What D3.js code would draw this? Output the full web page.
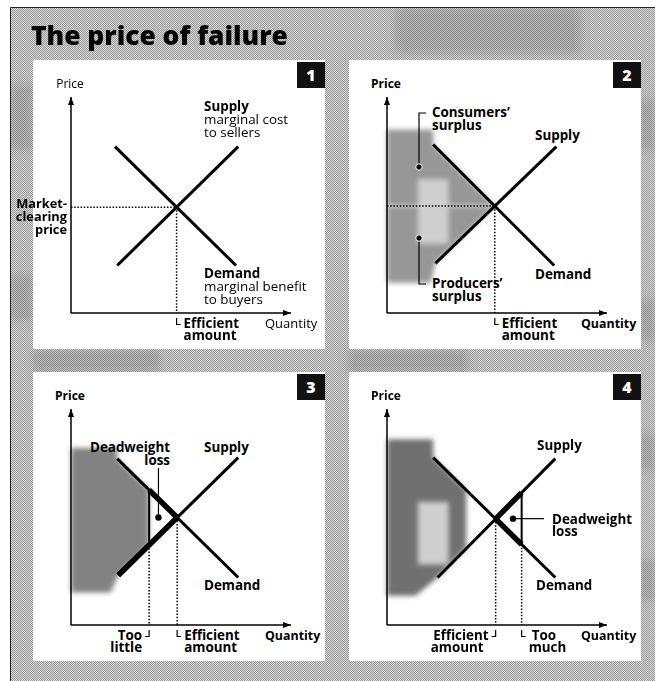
<!DOCTYPE html>
<html>
<head>
<meta charset="utf-8">
<script src="https://cdn.jsdelivr.net/npm/d3@7"></script>
<style>
  body { margin: 0; background: #fff; }
  svg { display: block; font-family: "Open Sans", "Noto Sans", sans-serif; }
</style>
</head>
<body>
<svg id="chart" width="655" height="681"></svg>
<script>
// Values, in chart units: [quantity, price], both axes 0..10
var supply1 = [[2.1, 2.2], [7.6, 7.7]];
var demand1 = [[2.0, 7.7], [7.5, 2.2]];
var supply2 = [[2.2, 2.3], [7.7, 7.7]];
var demand2 = [[2.1, 7.8], [7.6, 2.2]];
var supply3 = [[2.15, 2.3], [7.6, 7.75]];
var demand3 = [[2.1, 7.7], [7.6, 2.2]];
var supply4 = [[2.3, 2.2], [7.65, 7.7]];
var demand4 = [[2.1, 7.75], [7.65, 2.2]];
var tooLittle = 3.55;   // quantity, panel 3
var tooMuch = 6.12;     // quantity, panel 4
// grey surplus areas: [top price, bottom price, quantity of bottom corner]
var shade2 = [8.5, 1.4, 2.0];
var shade3 = [8.2, 1.5, 1.8];
var shade4 = [8.6, 1.35, 1.3];
var shade4Edge = 3.6;   // right edge of the grey area in panel 4
// lighter patch inside the grey areas: [[q0, q1], [p0, p1]]
var light2 = [[1.4, 2.8], [3.2, 6.2]];
var light4 = [[1.4, 2.8], [2.8, 5.7]];

var svg = d3.select("#chart");
var defs = svg.append("defs");

// halftone-ish grey for the page background
var pat = defs.append("pattern").attr("id", "dither")
    .attr("width", 2).attr("height", 2).attr("patternUnits", "userSpaceOnUse");
pat.append("rect").attr("width", 2).attr("height", 2).attr("fill", "#d8d8d8");
pat.append("rect").attr("width", 1).attr("height", 1).attr("fill", "#989898");
pat.append("rect").attr("x", 1).attr("y", 1).attr("width", 1).attr("height", 1).attr("fill", "#989898");

defs.append("filter").attr("id", "soft")
    .attr("x", "-20%").attr("y", "-20%").attr("width", "140%").attr("height", "140%")
  .append("feGaussianBlur").attr("stdDeviation", 2.5);
defs.append("filter").attr("id", "blob")
    .attr("x", "-30%").attr("y", "-30%").attr("width", "160%").attr("height", "160%")
  .append("feGaussianBlur").attr("stdDeviation", 4);
defs.append("clipPath").attr("id", "page")
  .append("rect").attr("x", 11).attr("y", 8).attr("width", 644).attr("height", 673);

defs.append("marker").attr("id", "arrow")
    .attr("viewBox", "0 0 8 6").attr("refX", 8).attr("refY", 3)
    .attr("markerWidth", 8).attr("markerHeight", 6)
    .attr("markerUnits", "userSpaceOnUse").attr("orient", "auto")
  .append("path").attr("d", "M0,0L8,3L0,6Z").attr("fill", "#000");

// page background + darker scan blotches
svg.append("rect").attr("x", 10).attr("y", 7).attr("width", 645).attr("height", 674)
    .attr("fill", "url(#dither)");
var blobs = [[395, 8, 185, 45], [10, 85, 23, 65], [10, 275, 23, 45], [640, 100, 15, 50],
             [640, 300, 15, 40], [33, 350, 127, 22], [348, 350, 120, 22], [640, 435, 15, 35],
             [640, 560, 15, 40]];
svg.append("g").attr("clip-path", "url(#page)")
  .append("g").attr("filter", "url(#blob)").selectAll("rect")
  .data(blobs).enter().append("rect")
    .attr("x", d => d[0]).attr("y", d => d[1])
    .attr("width", d => d[2]).attr("height", d => d[3])
    .attr("fill", "#777").attr("opacity", 0.35);
svg.append("path").attr("d", "M10.5,681V7.5H655").attr("fill", "none")
    .attr("stroke", "#222").attr("stroke-width", 1);

// title
var title = svg.append("text").attr("x", 31).attr("y", 45)
    .attr("font-size", 25).attr("font-weight", 800).attr("fill", "#000")
    .text("The price of failure");
var tw = title.node().getComputedTextLength();
title.attr("font-size", 25 * 257 / tw);

var x = d3.scaleLinear().domain([0, 10]).range([0, 220]);
var y = d3.scaleLinear().domain([0, 10]).range([0, -216]);
var line = d3.line().x(d => x(d[0])).y(d => y(d[1]));

function intersect(s, d) {
  var x1 = s[0][0], y1 = s[0][1], x2 = s[1][0], y2 = s[1][1];
  var x3 = d[0][0], y3 = d[0][1], x4 = d[1][0], y4 = d[1][1];
  var den = (x1 - x2) * (y3 - y4) - (y1 - y2) * (x3 - x4);
  var t = ((x1 - x3) * (y3 - y4) - (y1 - y3) * (x3 - x4)) / den;
  return [x1 + t * (x2 - x1), y1 + t * (y2 - y1)];
}
function priceAt(l, q) {
  var t = (q - l[0][0]) / (l[1][0] - l[0][0]);
  return l[0][1] + t * (l[1][1] - l[0][1]);
}

var FS = 13.4, LEAD = 12.8;

function label(g, px, py, lines, anchor, weights, size) {
  var t = g.append("text").attr("x", px).attr("y", py)
      .attr("text-anchor", anchor || "start")
      .attr("font-size", size || FS).attr("fill", "#000");
  lines.forEach(function(s, i) {
    t.append("tspan").attr("x", px).attr("dy", i ? LEAD : 0)
      .attr("font-weight", weights ? weights[i] : 700).text(s);
  });
  return t;
}
function lmark(g, q, dir) {
  g.append("path")
    .attr("d", "M" + x(q) + ",5V11.5H" + (x(q) + 4 * dir))
    .attr("fill", "none").attr("stroke", "#000").attr("stroke-width", 1.2);
}
function dotted(g, pts) {
  g.append("path").attr("d", line(pts)).attr("fill", "none")
    .attr("stroke", "#000").attr("stroke-width", 1.5).attr("stroke-dasharray", "1.5,1.7");
}
function solid(g, pts, w) {
  g.append("path").attr("d", line(pts)).attr("fill", "none")
    .attr("stroke", "#000").attr("stroke-width", w).attr("stroke-linecap", "butt");
}
function shade(g, pts, col) {
  g.append("path").attr("d", line(pts) + "Z").attr("fill", col)
    .attr("filter", "url(#soft)");
}
function patch(g, r) {
  g.append("rect")
    .attr("x", x(r[0][0])).attr("y", y(r[1][1]))
    .attr("width", x(r[0][1]) - x(r[0][0])).attr("height", y(r[1][0]) - y(r[1][1]))
    .attr("fill", "#cfcfcf").attr("filter", "url(#soft)");
}

var layout = [
  {n: "1", ox: 71, oy: 313, axisWeight: 400, supply: supply1, demand: demand1},
  {n: "2", ox: 387, oy: 313, axisWeight: 700, supply: supply2, demand: demand2},
  {n: "3", ox: 71, oy: 625, axisWeight: 700, supply: supply3, demand: demand3},
  {n: "4", ox: 387, oy: 625, axisWeight: 700, supply: supply4, demand: demand4}
];

var panels = layout.map(function(p) {
  var g = svg.append("g").attr("transform", "translate(" + p.ox + "," + p.oy + ")");
  g.append("rect").attr("x", -38).attr("y", -253).attr("width", 292).attr("height", 289)
    .attr("fill", "#fff");
  g.append("rect").attr("x", 226).attr("y", -251).attr("width", 28).attr("height", 26)
    .attr("fill", "#111");
  g.append("text").attr("x", 240).attr("y", -232).attr("text-anchor", "middle")
    .attr("font-size", 16).attr("font-weight", 800).attr("fill", "#fff").text(p.n);
  var under = g.append("g");
  var over = g.append("g");
  // axes
  over.append("path").attr("d", line([[0, 0], [0, 10]])).attr("fill", "none")
    .attr("stroke", "#000").attr("stroke-width", 1.5).attr("marker-end", "url(#arrow)");
  over.append("path").attr("d", line([[0, 0], [10, 0]])).attr("fill", "none")
    .attr("stroke", "#000").attr("stroke-width", 1.5).attr("marker-end", "url(#arrow)");
  label(over, x(0) - 1, -225, ["Price"], "middle", [p.axisWeight], 12);
  label(over, 194, 14.5, ["Quantity"], "start", [p.axisWeight], p.axisWeight > 400 ? 12.4 : 13);
  // supply & demand
  solid(over, p.supply, 3);
  solid(over, p.demand, 3);
  var eq = intersect(p.supply, p.demand);
  return {g: over, under: under, eq: eq, supply: p.supply, demand: p.demand};
});

// ---- panel 1
(function(P) {
  var g = P.g, eq = P.eq;
  dotted(P.under, [[0, eq[1]], eq]);
  dotted(P.under, [eq, [eq[0], 0]]);
  label(g, 133, -202, ["Supply", "marginal cost", "to sellers"], "start", [700, 400, 400]);
  label(g, 133, -35, ["Demand", "marginal benefit", "to buyers"], "start", [700, 400, 400]);
  label(g, -4, y(eq[1]) + 1, ["Market-", "clearing", "price"], "end", null, 12.8);
  lmark(g, eq[0], 1);
  label(g, x(eq[0]) + 7, 14.5, ["Efficient", "amount"], "start");
})(panels[0]);

// ---- panel 2
(function(P) {
  var g = P.g, eq = P.eq, s = P.supply, d = P.demand;
  shade(P.under, [[0, shade2[0]], [d[0][0], shade2[0]], d[0], eq, [0, eq[1]]], "#979797");
  shade(P.under, [[0, eq[1]], eq, s[0], [shade2[2], shade2[1]], [0, shade2[1]]], "#979797");
  patch(P.under, light2);
  dotted(g, [[0, eq[1]], eq]);
  dotted(g, [eq, [eq[0], 0]]);
  // bracket pointers
  g.append("path").attr("d", "M39,-200H32V-146").attr("fill", "none")
    .attr("stroke", "#000").attr("stroke-width", 1.2);
  g.append("circle").attr("cx", 32).attr("cy", -146).attr("r", 3.2).attr("fill", "#000")
    .attr("stroke", "#fff").attr("stroke-width", 1);
  g.append("path").attr("d", "M32,-75V-29H39").attr("fill", "none")
    .attr("stroke", "#000").attr("stroke-width", 1.2);
  g.append("circle").attr("cx", 32).attr("cy", -75).attr("r", 3.2).attr("fill", "#000")
    .attr("stroke", "#fff").attr("stroke-width", 1);
  label(g, 45, -196, ["Consumers\u2019", "surplus"], "start");
  label(g, 45, -25, ["Producers\u2019", "surplus"], "start");
  label(g, 148, -173, ["Supply"], "start");
  label(g, 148, -34, ["Demand"], "start");
  lmark(g, eq[0], 1);
  label(g, x(eq[0]) + 7, 14.5, ["Efficient", "amount"], "start");
})(panels[1]);

// ---- panel 3
(function(P) {
  var g = P.g, eq = P.eq, s = P.supply, d = P.demand;
  var top = [tooLittle, priceAt(d, tooLittle)], bot = [tooLittle, priceAt(s, tooLittle)];
  shade(P.under, [[0, shade3[0]], [d[0][0], shade3[0]], d[0], top, bot, s[0],
                  [shade3[2], shade3[1]], [0, shade3[1]]], "#828282");
  dotted(g, [bot, [tooLittle, 0]]);
  dotted(g, [eq, [eq[0], 0]]);
  solid(g, [top, bot], 2);
  solid(g, [s[0], eq], 5.5);
  solid(g, [top, eq], 5.5);
  var cx = (top[0] + bot[0] + eq[0]) / 3, cy = (top[1] + bot[1] + eq[1]) / 3;
  g.append("path").attr("d", "M" + x(cx) + "," + y(cy) + "V-157").attr("stroke", "#000")
    .attr("stroke-width", 1.2);
  g.append("circle").attr("cx", x(cx)).attr("cy", y(cy)).attr("r", 3.2).attr("fill", "#000");
  label(g, 99, -173, ["Deadweight", "loss"], "end");
  label(g, 133, -173, ["Supply"], "start");
  label(g, 133, -35, ["Demand"], "start");
  lmark(g, tooLittle, -1);
  label(g, x(tooLittle) - 7, 14.5, ["Too", "little"], "end");
  lmark(g, eq[0], 1);
  label(g, x(eq[0]) + 7, 14.5, ["Efficient", "amount"], "start");
})(panels[2]);

// ---- panel 4
(function(P) {
  var g = P.g, eq = P.eq, s = P.supply, d = P.demand;
  var top = [tooMuch, priceAt(s, tooMuch)], bot = [tooMuch, priceAt(d, tooMuch)];
  shade(P.under, [[0, shade4[0]], [d[0][0], shade4[0]], d[0],
                  [shade4Edge, priceAt(d, shade4Edge)], [shade4Edge, priceAt(s, shade4Edge)],
                  s[0], [shade4[2], shade4[1]], [0, shade4[1]]], "#707070");
  patch(P.under, light4);
  dotted(g, [eq, [eq[0], 0]]);
  dotted(g, [bot, [tooMuch, 0]]);
  solid(g, [top, bot], 2);
  solid(g, [eq, top], 5.5);
  solid(g, [eq, bot], 5.5);
  var cx = (top[0] + bot[0] + eq[0]) / 3, cy = (top[1] + bot[1] + eq[1]) / 3;
  g.append("path").attr("d", "M" + x(cx) + "," + y(cy) + "H157").attr("stroke", "#000")
    .attr("stroke-width", 1.2);
  g.append("circle").attr("cx", x(cx)).attr("cy", y(cy)).attr("r", 3.2).attr("fill", "#000");
  label(g, 165, y(cy) + 5, ["Deadweight", "loss"], "start");
  label(g, 150, -175, ["Supply"], "start");
  label(g, 149, -35, ["Demand"], "start");
  lmark(g, eq[0], -1);
  label(g, x(eq[0]) - 7, 14.5, ["Efficient"], "end");
  label(g, x(eq[0]) - 12, 14.5 + LEAD, ["amount"], "end");
  lmark(g, tooMuch, 1);
  label(g, x(tooMuch) + 10, 14.5, ["Too"], "start");
  label(g, x(tooMuch) + 7, 14.5 + LEAD, ["much"], "start");
})(panels[3]);
</script>
</body>
</html>
